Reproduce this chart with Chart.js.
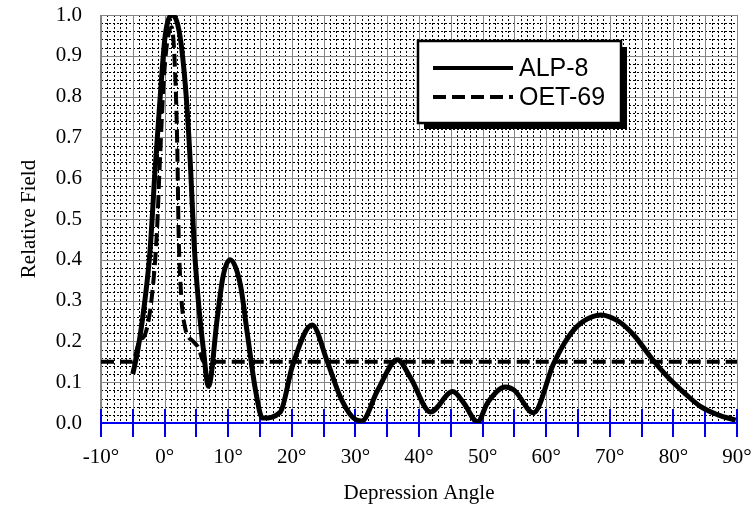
<!DOCTYPE html>
<html>
<head>
<meta charset="utf-8">
<script src="https://cdn.jsdelivr.net/npm/chart.js@4"></script>
<style>
html, body { margin: 0; padding: 0; background: #fff; }
</style>
</head>
<body>
<canvas id="myChart" width="754" height="510"></canvas>
<script>
// data
var alpAngles = [-5, -4.2, -3.1, -2.3, -1.5, -0.6, 0.1, 1.2, 2.4, 3.4, 4.1, 4.6, 5.3, 6.1, 6.9,
    8.3, 9.2, 10.3, 11.9, 13.0, 14.3, 15.4, 18.2, 20.1, 23.2, 25.6, 27.6, 29.5, 31.0,
    33.5, 36.6, 38.7, 41.8, 45.3, 47.0, 49.2, 50.8, 53.6, 55.0, 58.0, 61.2, 63.9, 65.9,
    68.6, 71.3, 73.8, 76.5, 79.1, 81.7, 84.3, 87.0, 89.8];
var alpField = [0.12, 0.18, 0.30, 0.42, 0.62, 0.82, 0.95, 1.0, 0.95, 0.80, 0.62, 0.45, 0.30, 0.18, 0.09,
    0.26, 0.36, 0.40, 0.34, 0.22, 0.08, 0.012, 0.027, 0.14, 0.24, 0.15, 0.065, 0.015, 0.005,
    0.08, 0.155, 0.11, 0.027, 0.077, 0.05, 0.003, 0.05, 0.088, 0.08, 0.025, 0.147, 0.22, 0.25,
    0.265, 0.25, 0.215, 0.16, 0.113, 0.074, 0.04, 0.02, 0.007];

var oetAngles = [-10, -5, -4, -3, -2, -1.2, -0.8, 0, 1.1, 1.6, 2.0, 2.2, 2.5, 3.2, 4.5, 5.3, 6.2, 90];
var oetField = [0.15, 0.15, 0.2, 0.22, 0.31, 0.47, 0.62, 0.87, 0.97, 0.88, 0.67, 0.47, 0.34, 0.235, 0.2, 0.185, 0.15, 0.15];

var seriesNames = ['ALP-8', 'OET-69'];
var xMin = -10, xMax = 90, xLabelStep = 10;
var yMin = 0, yMax = 1, yLabelStep = 0.1;

function toPoints(xs, ys) {
    return xs.map(function (x, i) { return { x: x, y: ys[i] }; });
}

// graph paper grid, blue axis and ticks
var paperGrid = {
    id: 'paperGrid',
    beforeDatasetsDraw: function (chart) {
        var ctx = chart.ctx, xs = chart.scales.x, ys = chart.scales.y, a = chart.chartArea;
        var v, p;
        ctx.save();
        ctx.lineWidth = 1;
        ctx.strokeStyle = '#000';
        ctx.setLineDash([2, 2]);
        ctx.beginPath();
        for (v = xMin; v <= xMax; v++) {
            if (v % 5 === 0) continue;
            p = Math.round(xs.getPixelForValue(v)) + 0.5;
            ctx.moveTo(p, a.top); ctx.lineTo(p, a.bottom);
        }
        for (v = 0; v <= 50; v++) {
            if (v % 5 === 0) continue;
            p = Math.round(ys.getPixelForValue(v * 0.02)) + 0.5;
            ctx.moveTo(a.left, p); ctx.lineTo(a.right, p);
        }
        ctx.stroke();

        ctx.setLineDash([]);
        ctx.strokeStyle = '#858585';
        ctx.beginPath();
        for (v = xMin; v <= xMax; v += 5) {
            p = Math.round(xs.getPixelForValue(v)) + 0.5;
            ctx.moveTo(p, a.top); ctx.lineTo(p, a.bottom);
        }
        for (v = 0; v <= 10; v++) {
            p = Math.round(ys.getPixelForValue(v * 0.1)) + 0.5;
            ctx.moveTo(a.left, p); ctx.lineTo(a.right, p);
        }
        ctx.stroke();
        ctx.lineWidth = 2;
        ctx.beginPath();
        ctx.moveTo(a.left, a.top); ctx.lineTo(a.left, a.bottom);
        ctx.stroke();

        ctx.strokeStyle = '#0000ee';
        ctx.lineWidth = 2;
        var y0 = Math.round(ys.getPixelForValue(0));
        ctx.beginPath();
        ctx.moveTo(a.left, y0); ctx.lineTo(a.right, y0);
        for (v = xMin; v <= xMax; v += 5) {
            p = Math.round(xs.getPixelForValue(v));
            ctx.moveTo(p, y0 - 14); ctx.lineTo(p, y0 + 14);
        }
        ctx.stroke();
        ctx.restore();
    }
};

// boxed legend with a drop shadow
var boxLegend = {
    id: 'boxLegend',
    afterDatasetsDraw: function (chart) {
        var ctx = chart.ctx;
        var bx = 418, by = 41, bw = 203, bh = 82;
        ctx.save();
        ctx.fillStyle = '#000';
        ctx.fillRect(bx + 6, by + 6, bw, bh);
        ctx.fillStyle = '#fff';
        ctx.fillRect(bx, by, bw, bh);
        ctx.lineWidth = 2.5;
        ctx.strokeStyle = '#000';
        ctx.strokeRect(bx, by, bw, bh);

        ctx.font = '25px "Liberation Sans", Arial, sans-serif';
        ctx.fillStyle = '#000';
        ctx.textBaseline = 'middle';
        chart.data.datasets.forEach(function (ds, i) {
            var ly = by + 27 + i * 29;
            ctx.lineWidth = 4;
            ctx.setLineDash(ds.borderDash || []);
            ctx.beginPath();
            ctx.moveTo(433, ly); ctx.lineTo(513, ly);
            ctx.stroke();
            ctx.setLineDash([]);
            ctx.fillText(ds.label, 519, ly + 1);
        });
        ctx.restore();
    }
};

Chart.defaults.font.family = '"Liberation Serif", "Times New Roman", serif';
Chart.defaults.color = '#000';

var ctx = document.getElementById('myChart').getContext('2d');
var chart = new Chart(ctx, {
    type: 'line',
    data: {
        datasets: [
            {
                label: seriesNames[0],
                data: toPoints(alpAngles, alpField),
                borderColor: '#000',
                borderWidth: 5,
                pointRadius: 0,
                cubicInterpolationMode: 'monotone',
                fill: false
            },
            {
                label: seriesNames[1],
                data: toPoints(oetAngles, oetField),
                borderColor: '#000',
                borderWidth: 4,
                borderDash: [13, 6],
                pointRadius: 0,
                cubicInterpolationMode: 'monotone',
                fill: false
            }
        ]
    },
    options: {
        responsive: false,
        animation: false,
        devicePixelRatio: 1,
        layout: { padding: { left: 13, right: 17, top: 15, bottom: 0 } },
        plugins: { legend: { display: false }, tooltip: { enabled: false } },
        scales: {
            x: {
                type: 'linear',
                min: xMin,
                max: xMax,
                grid: { display: false, drawTicks: false },
                border: { display: false },
                ticks: {
                    stepSize: xLabelStep,
                    padding: 22,
                    font: { size: 21 },
                    callback: function (v) { return v + '°'; }
                },
                title: { display: true, text: 'Depression Angle', font: { size: 21 } },
                afterFit: function (scale) {
                    scale.height = 87;
                    scale.paddingLeft = 0;
                    scale.paddingRight = 0;
                }
            },
            y: {
                min: yMin,
                max: yMax,
                grid: { display: false, drawTicks: false },
                border: { display: false },
                ticks: {
                    stepSize: yLabelStep,
                    padding: 19,
                    font: { size: 21 },
                    callback: function (v) { return v.toFixed(1); }
                },
                title: { display: true, text: 'Relative Field', font: { size: 21 } },
                afterFit: function (scale) {
                    scale.width = 88;
                    scale.paddingTop = 0;
                    scale.paddingBottom = 0;
                }
            }
        }
    },
    plugins: [paperGrid, boxLegend]
});
</script>
</body>
</html>
